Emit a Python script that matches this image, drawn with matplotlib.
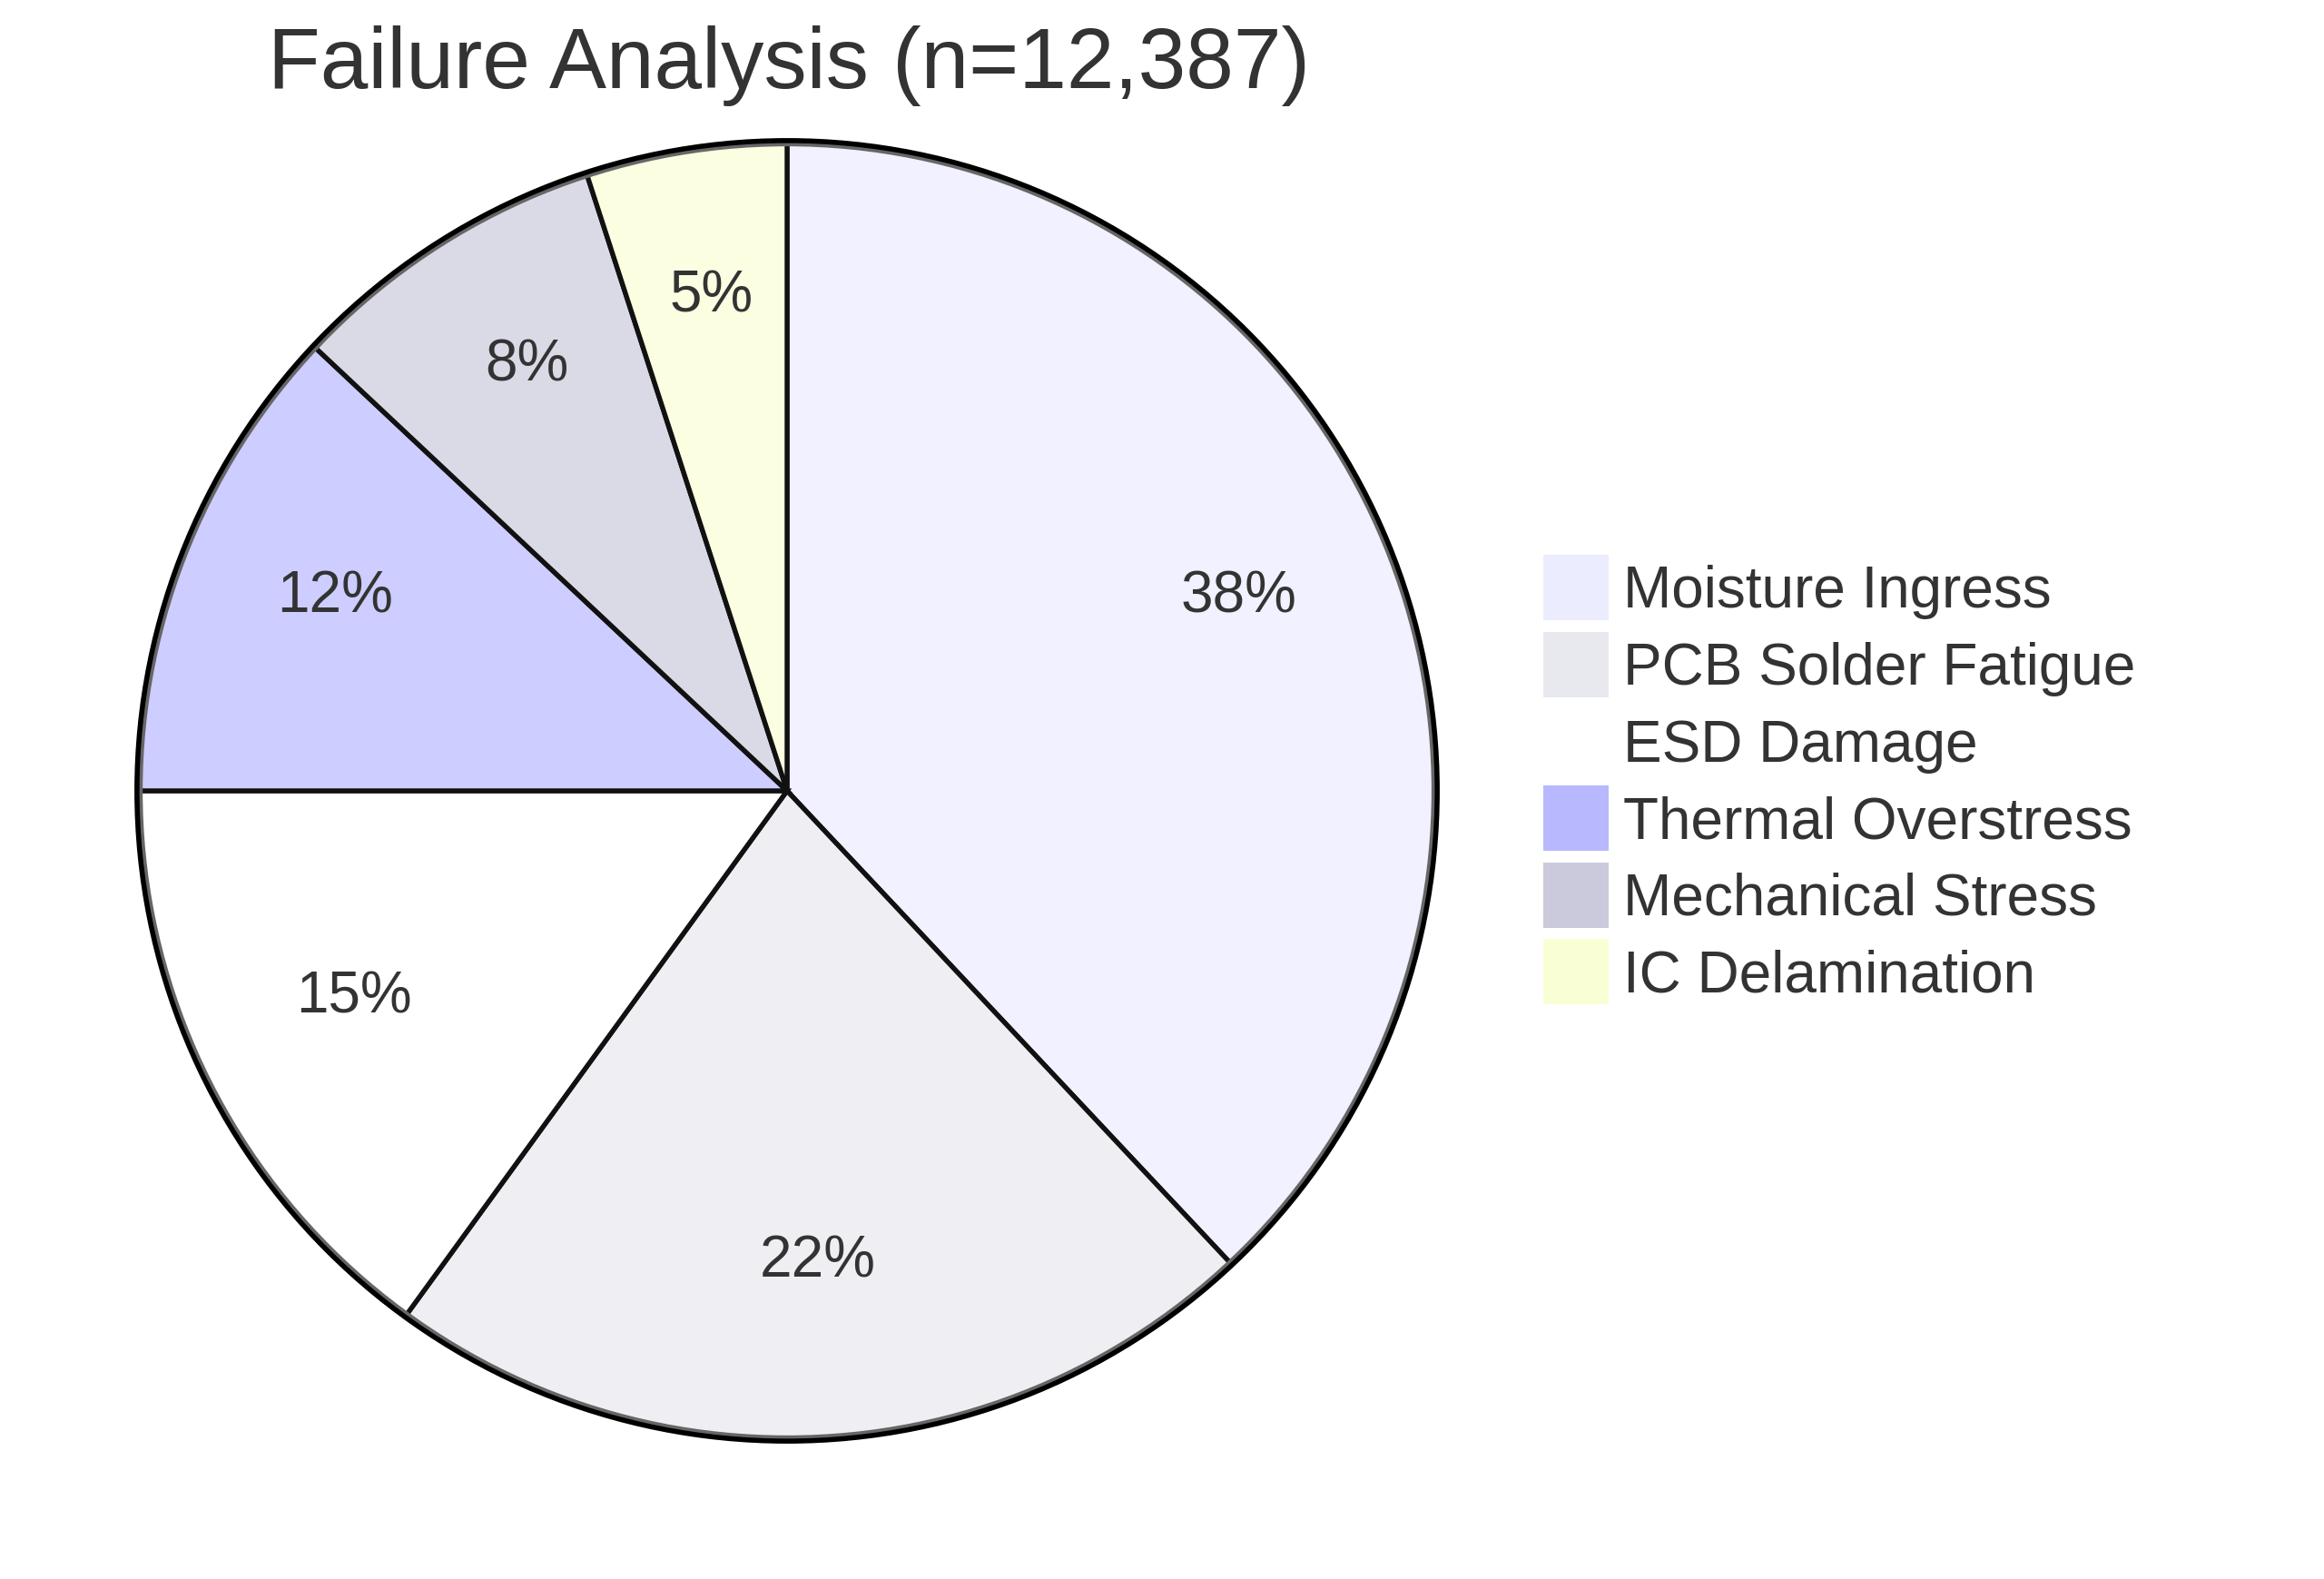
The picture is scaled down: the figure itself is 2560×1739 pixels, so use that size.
import matplotlib
matplotlib.use("Agg")
import matplotlib.pyplot as plt
from matplotlib.colors import to_rgba
from matplotlib.patches import Patch, Circle

plt.rcParams['font.family'] = ['Liberation Sans', 'DejaVu Sans']

# data
categories = ["Moisture Ingress", "PCB Solder Fatigue", "ESD Damage",
              "Thermal Overstress", "Mechanical Stress", "IC Delamination"]
shares = [38, 22, 15, 12, 8, 5]
colors = ["#ECECFF", "#E8E8EF", "#FFFFFF", "#B8B8FF", "#CBCADC", "#FAFED5"]
title = "Failure Analysis (n=12,387)"

W, H = 2560, 1740
fig = plt.figure(figsize=(W / 100, H / 100), dpi=100, facecolor='white')

# pie centre ~ (867, 872) px, radius ~714 px
cx, cy, r = 867, 872, 714
ax = fig.add_axes([(cx - r) / W, (H - cy - r) / H, 2 * r / W, 2 * r / H])

wedges, texts, autotexts = ax.pie(
    shares, colors=[to_rgba(c, 0.7) for c in colors],
    startangle=90, counterclock=False,
    autopct='%1.0f%%', pctdistance=0.75,
    wedgeprops=dict(edgecolor='#111111', linewidth=3.8, clip_on=False),
    textprops=dict(fontsize=46, color='#333333'))
for t in autotexts:
    t.set_va('baseline')

ax.add_patch(Circle((0, 0), 1.0, fill=False, edgecolor='#666666',
                    linewidth=6, clip_on=False))
ax.add_patch(Circle((0, 0), 1.003, fill=False, edgecolor='#000000',
                    linewidth=4, clip_on=False))
ax.set_xlim(-1, 1)
ax.set_ylim(-1, 1)
ax.set_aspect('equal', adjustable='box')
ax.axis('off')

fig.text(869 / W, 1 - 97 / H, title, ha='center', va='baseline',
         fontsize=68, color='#333333')

handles = [Patch(facecolor=c, edgecolor='none') for c in colors]
fig.legend(handles, categories, loc='upper left',
           bbox_to_anchor=(1700 / W, 1 - 612 / H),
           frameon=False, fontsize=46, labelcolor='#333333',
           handlelength=1.12, handleheight=1.354, handletextpad=0.25,
           labelspacing=0.2, borderpad=0, borderaxespad=0)

plt.savefig('out.png', dpi=100, facecolor='white')
